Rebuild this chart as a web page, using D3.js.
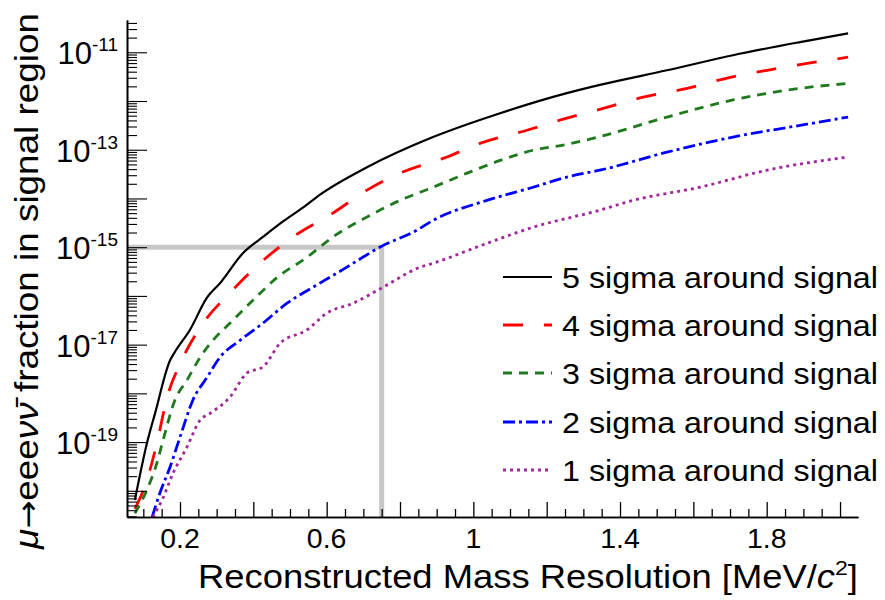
<!DOCTYPE html>
<html>
<head>
<meta charset="utf-8">
<script src="https://cdn.jsdelivr.net/npm/d3@7"></script>
<style>
  html, body { margin: 0; padding: 0; background: #fff; }
  svg { display: block; font-family: "Liberation Sans", Arial, sans-serif; }
</style>
</head>
<body>
<svg id="chart" width="885" height="600"></svg>
<script>
// ---------- data ----------
const seriesNames = ["5 sigma around signal", "4 sigma around signal", "3 sigma around signal", "2 sigma around signal", "1 sigma around signal"];

const x5 = [0.077,0.110,0.132,0.173,0.186,0.227,0.274,0.309,0.372,0.426,0.481,0.533,0.582,0.710,0.890,1.073,1.255,1.345,1.528,1.708,1.891,2.022];
const y5 = [6.46e-21,9.55e-20,3.89e-19,4.79e-18,7.08e-18,2.0e-17,9.33e-17,1.82e-16,7.59e-16,1.62e-15,3.39e-15,6.31e-15,1.20e-14,4.37e-14,1.82e-13,5.62e-13,1.45e-12,2.14e-12,4.27e-12,8.71e-12,1.62e-11,2.45e-11];

const x4 = [0.077,0.110,0.137,0.165,0.205,0.263,0.336,0.418,0.508,0.617,0.710,0.800,0.928,1.018,1.146,1.255,1.345,1.463,1.583,1.692,1.801,1.910,2.022];
const y4 = [4.27e-21,1.66e-20,9.55e-20,8.32e-19,4.79e-18,2.75e-17,1.15e-16,4.68e-16,1.62e-15,5.01e-15,1.48e-14,3.31e-14,7.08e-14,1.35e-13,2.51e-13,4.47e-13,6.76e-13,1.20e-12,1.82e-12,2.95e-12,4.27e-12,5.89e-12,7.94e-12];

const x3 = [0.077,0.110,0.137,0.154,0.186,0.219,0.255,0.290,0.336,0.399,0.465,0.546,0.617,0.710,0.800,0.890,0.983,1.073,1.163,1.255,1.345,1.528,1.708,1.891,2.022];
const y3 = [3.47e-21,1.05e-20,3.72e-20,1.10e-19,7.24e-19,1.86e-18,5.50e-18,1.23e-17,2.75e-17,8.13e-17,2.40e-16,6.17e-16,1.62e-15,4.17e-15,9.12e-15,1.70e-14,3.31e-14,6.03e-14,9.77e-14,1.29e-13,1.86e-13,4.68e-13,1.05e-12,1.82e-12,2.29e-12];

const x2 = [0.124,0.145,0.173,0.200,0.235,0.274,0.309,0.364,0.426,0.492,0.563,0.655,0.745,0.846,0.890,1.037,1.163,1.255,1.345,1.528,1.708,1.891,2.022];
const y2 = [2.88e-21,8.91e-21,3.09e-20,1.26e-19,7.24e-19,2.14e-18,5.50e-18,1.23e-17,2.75e-17,7.08e-17,1.51e-16,3.89e-16,1.0e-15,2.24e-15,3.55e-15,9.12e-15,1.70e-14,2.75e-14,3.80e-14,8.91e-14,1.82e-13,3.16e-13,4.68e-13];

const x1 = [0.126,0.151,0.181,0.219,0.255,0.282,0.336,0.383,0.426,0.473,0.546,0.601,0.672,0.754,0.855,0.890,1.037,1.163,1.345,1.435,1.618,1.801,2.022];
const y1 = [2.88e-21,6.46e-21,2.29e-20,7.94e-20,2.82e-19,3.89e-19,8.32e-19,2.63e-18,3.47e-18,1.07e-17,2.0e-17,4.47e-17,7.08e-17,1.51e-16,3.89e-16,4.68e-16,1.20e-15,2.57e-15,5.75e-15,9.12e-15,1.70e-14,3.80e-14,7.08e-14];

const xTickValues = [0.2, 0.6, 1.0, 1.4, 1.8];
const xTickLabels = ["0.2", "0.6", "1", "1.4", "1.8"];
const yTickExponents = [-11, -13, -15, -17, -19];

const markerX = 0.75;      // grey guide line
const markerY = 1e-15;

const xDomain = [0.0555, 2.049];
const yDomain = [2.9e-21, 4.6e-11];

// ---------- layout / style ----------
const L = 127, R = 858, T = 20, B = 517;
const styles = [
  { color: "#000000", width: 2.2, dash: null },
  { color: "#ff0000", width: 2.8, dash: "20,21" },
  { color: "#1f7a1f", width: 2.8, dash: "9,7" },
  { color: "#0000ff", width: 2.8, dash: "12,4,3,4" },
  { color: "#a0289a", width: 2.8, dash: "3,4" }
];
const seriesX = [x5, x4, x3, x2, x1];
const seriesY = [y5, y4, y3, y2, y1];

const svg = d3.select("#chart");
const x = d3.scaleLinear().domain(xDomain).range([L, R]);
const y = d3.scaleLog().domain(yDomain).range([B, T]);

svg.append("defs").append("clipPath").attr("id", "plotclip")
  .append("rect").attr("x", L).attr("y", T).attr("width", R - L).attr("height", B - T);

// grey guide lines
const guide = svg.append("g").attr("stroke", "#c8c8c8").attr("stroke-width", 5).attr("fill", "none");
guide.append("line").attr("x1", L).attr("x2", x(markerX)).attr("y1", y(markerY)).attr("y2", y(markerY));
guide.append("line").attr("x1", x(markerX)).attr("x2", x(markerX)).attr("y1", y(markerY)).attr("y2", B);

// curves
const line = d3.line().x(d => x(d[0])).y(d => y(d[1])).curve(d3.curveMonotoneX);
const curves = svg.append("g").attr("clip-path", "url(#plotclip)");
seriesX.forEach((xs, i) => {
  const pts = xs.map((v, j) => [v, seriesY[i][j]]);
  curves.append("path")
    .attr("d", line(pts))
    .attr("fill", "none")
    .attr("stroke", styles[i].color)
    .attr("stroke-width", styles[i].width)
    .attr("stroke-dasharray", styles[i].dash)
    .attr("stroke-linejoin", "round");
});

// x axis (ticks drawn inward)
const xMinor = d3.range(0.1, 2.049, 0.05).filter(v => Math.abs(Math.round(v * 5) - v * 5) > 1e-6);
const xMajor = d3.range(0.2, 2.0001, 0.2);
const xAxisMajor = d3.axisBottom(x).tickValues(xMajor).tickSizeInner(-15).tickSizeOuter(0).tickFormat("");
const xAxisMinor = d3.axisBottom(x).tickValues(xMinor).tickSizeInner(-8).tickSizeOuter(0).tickFormat("");
const gx1 = svg.append("g").attr("transform", `translate(0,${B})`).call(xAxisMinor);
const gx2 = svg.append("g").attr("transform", `translate(0,${B})`).call(xAxisMajor);
[gx1, gx2].forEach(g => {
  g.selectAll("line").attr("stroke", "#000").attr("stroke-width", 1.3);
  g.select(".domain").attr("stroke", "#000").attr("stroke-width", 1.6);
});
svg.append("g").selectAll("text").data(xTickValues).join("text")
  .attr("x", (d) => x(d)).attr("y", 548)
  .attr("text-anchor", "middle")
  .attr("font-size", 28.5)
  .text((d, i) => xTickLabels[i]);

// y axis (log, ticks inward)
const yMajor = d3.range(-20, -10).map(e => Math.pow(10, e));
const yMinor = [];
d3.range(-21, -10).forEach(e => {
  for (let m = 2; m <= 9; m++) {
    const v = m * Math.pow(10, e);
    if (v >= yDomain[0] && v <= yDomain[1]) yMinor.push(v);
  }
});
const yAxisMajor = d3.axisLeft(y).tickValues(yMajor).tickSizeInner(-20).tickSizeOuter(0).tickFormat("");
const yAxisMinor = d3.axisLeft(y).tickValues(yMinor).tickSizeInner(-10).tickSizeOuter(0).tickFormat("");
const gy1 = svg.append("g").attr("transform", `translate(${L},0)`).call(yAxisMinor);
const gy2 = svg.append("g").attr("transform", `translate(${L},0)`).call(yAxisMajor);
[gy1, gy2].forEach(g => {
  g.selectAll("line").attr("stroke", "#000").attr("stroke-width", 1.1);
  g.select(".domain").attr("stroke", "#000").attr("stroke-width", 1.6);
});
const ylab = svg.append("g").selectAll("text").data(yTickExponents).join("text")
  .attr("x", 118).attr("y", d => y(Math.pow(10, d)) + 12)
  .attr("text-anchor", "end");
ylab.append("tspan").attr("font-size", 31).text("10");
ylab.append("tspan").attr("font-size", 19).attr("dy", -13).text(d => String(d));

// axis titles
const xt = svg.append("text").attr("x", 198).attr("y", 588).attr("font-size", 33)
  .attr("textLength", 660).attr("lengthAdjust", "spacingAndGlyphs");
xt.append("tspan").text("Reconstructed Mass Resolution [MeV/");
xt.append("tspan").attr("font-style", "italic").text("c");
xt.append("tspan").attr("font-size", 21).attr("dy", -13).text("2");
xt.append("tspan").attr("dy", 13).text("]");

const yt = svg.append("text").attr("transform", "translate(38,549) rotate(-90)")
  .attr("font-size", 33)
  .attr("textLength", 536).attr("lengthAdjust", "spacingAndGlyphs");
yt.append("tspan").attr("font-style", "italic").text("\u03bc");
yt.append("tspan").attr("font-family", "DejaVu Sans").attr("font-size", 30).text("\u2192");
yt.append("tspan").text("eee");
yt.append("tspan").attr("font-style", "italic").text("\u03bd\u03bd\u0304");
yt.append("tspan").text(" fraction in signal region");

// legend
const legY = [277, 325, 373, 422, 470];
const leg = svg.append("g");
seriesNames.forEach((name, i) => {
  leg.append("line").attr("x1", 503).attr("x2", 552).attr("y1", legY[i]).attr("y2", legY[i])
    .attr("stroke", styles[i].color).attr("stroke-width", styles[i].width)
    .attr("stroke-dasharray", styles[i].dash);
  leg.append("text").attr("x", 562).attr("y", legY[i] + 11).attr("font-size", 30)
    .attr("textLength", 316).attr("lengthAdjust", "spacingAndGlyphs").text(name);
});
</script>
</body>
</html>
